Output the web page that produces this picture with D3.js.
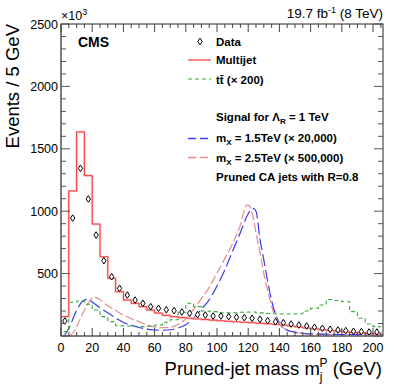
<!DOCTYPE html>
<html><head><meta charset="utf-8">
<script src="https://cdn.jsdelivr.net/npm/d3@7"></script>
<style>
body{margin:0;background:#fff;}
text{font-family:"Liberation Sans",Arial,Helvetica,sans-serif;}
</style></head>
<body><svg id="c" width="407" height="391"></svg>
<script>
// bin lower edges (GeV), 5 GeV bins
const binEdges = d3.range(0, 210, 5);
const multijet = [155,1162,1635,1285,897,635,462,355,288,262,235,208,184,165,155,148,142,137,132,127,122,118,114,110,106,102,98,94,88,80,72,64,57,50,44,38,33,28,24,20,17];
const ttbar = [35,270,280,255,208,155,115,82,80,78,75,78,88,110,130,190,262,235,200,195,185,185,185,190,192,185,180,178,176,176,178,200,222,248,292,285,275,195,142,96,75];
const dataCenters = d3.range(2.5, 205, 5);
const dataVals = [120,945,1344,1098,809,603,475,382,328,288,262,235,222,210,203,192,182,171,168,160,160,155,150,147,142,134,123,114,107,96,88,80,70,62,54,48,43,38,35,32,32];
const sig15x = [2,5,10,14,17,20,25,30,35,40,45,50,55,60,65,70,75,80,85,90,95,100,105,110,115,120,123,125,127.5,130,132,134,136,138,140,144,149,155,160,170,180,190,200,206];
const sig15y = [0,60,205,280,294,272,225,185,145,108,85,68,55,48,46,50,64,90,145,215,290,400,530,680,830,980,1022,1000,780,610,470,340,235,160,102,52,33,22,17,14,12,11,10,10];
const sig25x = [5,8,12,16,19,22,25,29,35,40,45,50,55,60,65,70,75,80,85,90,95,100,105,110,115,119,121,123,125.5,128,130,132,134,136,138,141,145,150,158,170,185,206];
const sig25y = [0,30,128,232,292,310,292,250,205,168,140,115,90,72,66,70,92,138,215,300,390,505,620,740,890,1050,1040,960,795,640,500,390,288,200,128,80,48,30,16,12,10,10];
const yTicks = [500,1000,1500,2000,2500];
const xTicks = [0,20,40,60,80,100,120,140,160,180,200];

const svg = d3.select("#c");
const L=61,R=383,T=24,B=336;
const x = d3.scaleLinear().domain([0,206.4]).range([L,R]);
const y = d3.scaleLinear().domain([0,2500]).range([B,T]);

svg.append("defs").append("clipPath").attr("id","pc").append("rect")
  .attr("x",L).attr("y",T).attr("width",R-L).attr("height",B-T);
const g = svg.append("g").attr("clip-path","url(#pc)");

const curve = (xs,ys)=>d3.line().x(d=>x(d[0])).y(d=>y(d[1])).curve(d3.curveMonotoneX)(xs.map((v,i)=>[v,ys[i]]));
const hist = vals=>{
  const pts=[[0,0]];
  vals.forEach((v,i)=>{pts.push([binEdges[i],v]);pts.push([binEdges[i]+5,v]);});
  return d3.line().x(d=>x(d[0])).y(d=>y(d[1]))(pts);
};

// signals
g.append("path").attr("d",curve(sig25x,sig25y)).attr("fill","none")
  .attr("stroke","#e88a8a").attr("stroke-width",1.2).attr("stroke-dasharray","9,3");
g.append("path").attr("d",curve(sig15x,sig15y)).attr("fill","none")
  .attr("stroke","#3b3bf0").attr("stroke-width",1.2).attr("stroke-dasharray","12,4");
// ttbar
g.append("path").attr("d",hist(ttbar)).attr("fill","none")
  .attr("stroke","#3aa63a").attr("stroke-width",1.1).attr("stroke-dasharray","4,3");
// multijet
g.append("path").attr("d",hist(multijet)).attr("fill","none")
  .attr("stroke","#ffc4c4").attr("stroke-width",2.2);
g.append("path").attr("d",hist(multijet)).attr("fill","none")
  .attr("stroke","#f23c3c").attr("stroke-width",1);
// data
const diamond = (cx,cy)=>`M${cx},${cy-3.3}L${cx+2.2},${cy}L${cx},${cy+3.3}L${cx-2.2},${cy}Z`;
g.selectAll("path.d").data(dataVals).enter().append("path").attr("class","d")
  .attr("d",(v,i)=>diamond(x(dataCenters[i]),y(v)))
  .attr("fill","#fff").attr("stroke","#000").attr("stroke-width",1);

// axes
const ax = svg.append("g");
ax.append("rect").attr("x",L).attr("y",T).attr("width",R-L).attr("height",B-T)
  .attr("fill","none").attr("stroke","#222").attr("stroke-width",1);
ax.append("line").attr("x1",L).attr("x2",L).attr("y1",T).attr("y2",B).attr("stroke","#777").attr("stroke-width",1.6);
ax.append("line").attr("x1",L).attr("x2",R).attr("y1",B).attr("y2",B).attr("stroke","#777").attr("stroke-width",1.6);
// y ticks
d3.range(0,2501,100).forEach(v=>{
  const major = v%500===0, len = major?9:5;
  ax.append("line").attr("x1",L).attr("x2",L+len).attr("y1",y(v)).attr("y2",y(v)).attr("stroke","#555");
  ax.append("line").attr("x1",R).attr("x2",R-len).attr("y1",y(v)).attr("y2",y(v)).attr("stroke","#555");
});
// x ticks
d3.range(0,206,5).forEach(v=>{
  const major = v%20===0, len = major?8:4;
  ax.append("line").attr("x1",x(v)).attr("x2",x(v)).attr("y1",B).attr("y2",B-len).attr("stroke","#444");
  ax.append("line").attr("x1",x(v)).attr("x2",x(v)).attr("y1",T).attr("y2",T+len).attr("stroke","#444");
});
ax.selectAll("text.yl").data(yTicks).enter().append("text").attr("class","yl")
  .attr("x",L-3).attr("y",d=>y(d)+4.5).attr("text-anchor","end").attr("font-size",12.5).text(d=>d);
ax.selectAll("text.xl").data(xTicks).enter().append("text").attr("class","xl")
  .attr("x",d=>x(d)).attr("y",B+16).attr("text-anchor","middle").attr("font-size",12.5).text(d=>d);

// x10^3
const e3 = svg.append("text").attr("x",L).attr("y",20).attr("font-size",12.5);
e3.append("tspan").text("\u00d710");
e3.append("tspan").attr("font-size",9).attr("dy",-5).text("3");

// axis titles
const xt = svg.append("text").attr("x",382).attr("y",375).attr("text-anchor","end").attr("font-size",18.5);
xt.append("tspan").text("Pruned-jet mass m");
xt.append("tspan").attr("font-size",12).attr("dy",6).text("j");
xt.append("tspan").attr("font-size",12).attr("dx",-3).attr("dy",-14).text("P");
xt.append("tspan").attr("dy",8).text(" (GeV)");
svg.append("text").attr("transform","translate(19,24) rotate(-90)").attr("text-anchor","end")
  .attr("font-size",18.5).text("Events / 5 GeV");

// top labels
const lum = svg.append("text").attr("x",383).attr("y",18).attr("text-anchor","end").attr("font-size",13.5);
lum.append("tspan").text("19.7 fb");
lum.append("tspan").attr("font-size",9).attr("dy",-5).text("-1");
lum.append("tspan").attr("dy",5).text(" (8 TeV)");
svg.append("text").attr("x",78).attr("y",46.5).attr("font-size",14).attr("font-weight","bold").text("CMS");

// legend
const lg = svg.append("g").attr("font-size",11.5).attr("font-weight","bold");
lg.append("path").attr("d",diamond(200,41.5)).attr("fill","#fff").attr("stroke","#000");
lg.append("text").attr("x",216).attr("y",45.5).text("Data");
lg.append("line").attr("x1",188).attr("x2",211).attr("y1",60).attr("y2",60).attr("stroke","#f23c3c").attr("stroke-width",1.2);
lg.append("text").attr("x",216).attr("y",63.5).text("Multijet");
lg.append("line").attr("x1",188).attr("x2",211).attr("y1",79).attr("y2",79).attr("stroke","#3aa63a").attr("stroke-width",1.2).attr("stroke-dasharray","4,3");
lg.append("text").attr("x",216).attr("y",84).text("tt\u0304 (\u00d7 200)");
const sg = lg.append("text").attr("x",216).attr("y",121);
sg.append("tspan").text("Signal for \u039b");
sg.append("tspan").attr("font-size",8).attr("dy",3).text("R");
sg.append("tspan").attr("dy",-3).text(" = 1 TeV");
lg.append("line").attr("x1",188).attr("x2",211).attr("y1",138.5).attr("y2",138.5).attr("stroke","#3b3bf0").attr("stroke-width",1.3).attr("stroke-dasharray","8,4");
const m1 = lg.append("text").attr("x",216).attr("y",142);
m1.append("tspan").text("m");
m1.append("tspan").attr("font-size",8).attr("dy",3).text("X");
m1.append("tspan").attr("dy",-3).text(" = 1.5TeV (\u00d7 20,000)");
lg.append("line").attr("x1",188).attr("x2",211).attr("y1",157.5).attr("y2",157.5).attr("stroke","#e88a8a").attr("stroke-width",1.3).attr("stroke-dasharray","8,4");
const m2 = lg.append("text").attr("x",216).attr("y",161.5);
m2.append("tspan").text("m");
m2.append("tspan").attr("font-size",8).attr("dy",3).text("X");
m2.append("tspan").attr("dy",-3).text(" = 2.5TeV (\u00d7 500,000)");
lg.append("text").attr("x",216).attr("y",180.5).text("Pruned CA jets with R=0.8");
</script></body></html>
